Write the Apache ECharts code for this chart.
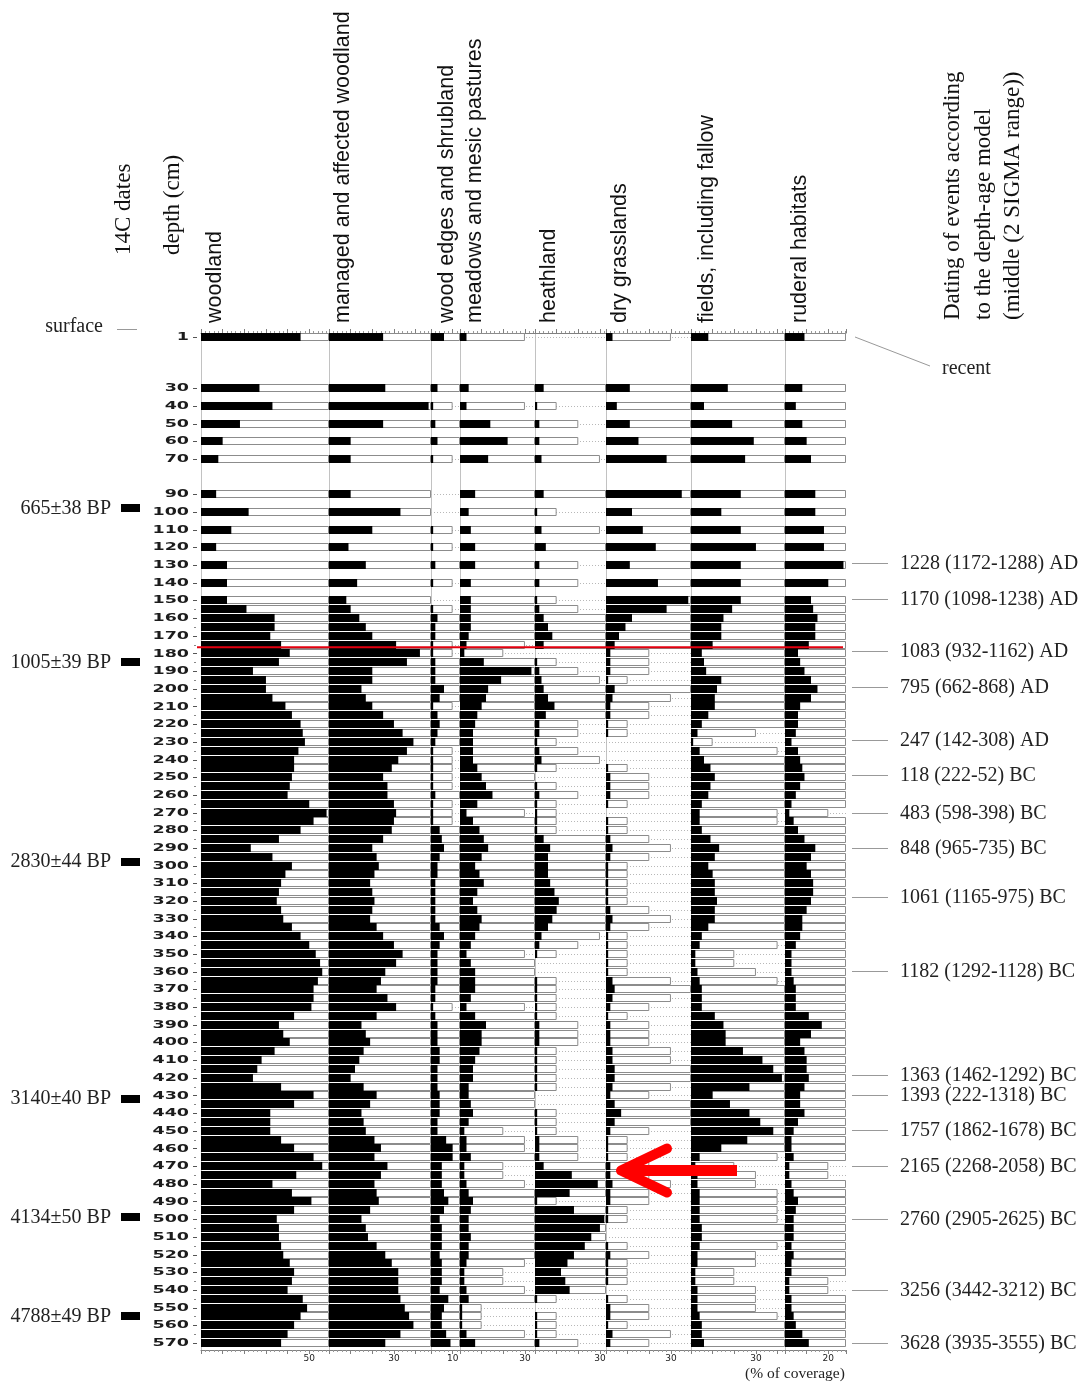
<!DOCTYPE html>
<html>
<head>
<meta charset="utf-8">
<script src="https://cdn.jsdelivr.net/npm/echarts@6/dist/echarts.min.js"></script>
<style>
  html, body { margin: 0; padding: 0; background: #fff; }
  #chart { width: 1087px; height: 1383px; }
</style>
</head>
<body>
<div id="chart"></div>
<script>
// Sample depths (cm)
const depths = [1,30,40,50,60,70,90,100,110,120,130,140,
  150,155,160,165,170,175,180,185,190,195,
  200,205,210,215,220,225,230,235,240,245,
  250,255,260,265,270,275,280,285,290,295,
  300,305,310,315,320,325,330,335,340,345,
  350,355,360,365,370,375,380,385,390,395,
  400,405,410,415,420,425,430,435,440,445,
  450,455,460,465,470,475,480,485,490,495,
  500,505,510,515,520,525,530,535,540,545,
  550,555,560,565,570];

// Depth tick labels
const depthLabels = [1,30,40,50,60,70,90,100,110,120,130,140,150,160,170,180,190,
  200,210,220,230,240,250,260,270,280,290,300,310,320,330,340,350,360,370,380,390,
  400,410,420,430,440,450,460,470,480,490,500,510,520,530,540,550,560,570];

// % of coverage per habitat type, one value per sample depth
const woodland = [46,27,33,18,10,8,7,22,14,7,12,12,
  12,21,34,34,32,37,41,36,24,30,
  30,33,39,42,46,47,48,45,43,43,
  42,41,40,50,58,52,46,36,23,33,
  42,39,37,36,35,37,38,42,46,50,
  53,55,56,54,52,52,51,43,36,38,
  41,34,28,26,24,37,52,43,32,32,
  32,37,43,52,56,44,33,42,51,43,
  35,36,36,37,38,41,43,42,40,47,
  49,46,43,40,37];

const managedWoodland = [25,26,46,25,10,10,10,33,20,9,17,13,
  8,10,14,17,20,31,42,36,20,20,
  15,17,20,25,30,34,39,36,32,29,
  25,27,27,30,31,30,29,25,20,22,
  23,21,19,20,21,20,19,22,25,30,
  34,31,26,24,22,27,31,22,15,17,
  19,16,14,12,10,16,22,19,15,16,
  17,21,24,21,27,24,21,22,23,19,
  15,17,18,22,26,29,32,32,32,33,
  35,37,39,33,26];

const woodEdges = [6,3,1,2,3,1,0,0,1,1,2,1,
  0,1,3,2,2,1,1,2,2,2,
  6,4,1,3,4,3,2,1,1,1,
  1,1,2,1,1,1,4,5,6,4,
  3,3,2,2,2,2,2,4,6,4,
  3,3,3,3,2,2,1,2,3,3,
  3,4,4,3,3,3,4,4,4,3,
  3,7,10,10,5,5,5,6,8,6,
  4,5,5,5,4,5,5,5,4,8,
  6,5,5,7,9];

const meadows = [3,4,3,14,22,13,7,4,5,7,7,5,
  5,5,5,5,4,3,2,11,33,19,
  13,12,10,8,7,6,6,6,6,8,
  10,12,15,8,3,6,9,11,13,10,
  7,9,11,8,6,8,10,9,7,5,
  3,5,7,7,7,5,3,7,12,10,
  10,9,7,6,6,4,4,5,6,4,
  2,3,3,5,2,2,3,4,6,5,
  4,4,5,4,4,3,2,2,3,4,
  1,1,1,3,7];

const heathland = [0,4,1,2,2,3,4,1,3,5,2,2,
  1,2,4,6,8,4,0,1,2,3,
  4,6,9,5,2,2,1,2,3,1,
  0,1,2,1,1,1,1,4,7,6,
  6,6,7,9,11,10,8,6,3,2,
  1,0,0,1,1,1,1,1,2,2,
  2,1,1,1,1,1,0,0,1,1,
  1,2,2,2,4,17,29,16,1,18,
  32,30,26,23,18,15,12,14,16,1,
  0,1,1,1,2];

const dryGrasslands = [3,11,5,11,15,28,35,12,17,23,11,24,
  38,28,12,9,6,4,2,2,2,1,
  4,3,2,2,1,1,0,0,0,1,
  2,2,2,1,0,1,1,2,3,2,
  1,1,1,1,1,2,3,2,1,1,
  1,1,1,3,4,3,2,1,2,2,
  2,3,3,4,4,3,2,4,7,4,
  2,1,1,1,2,2,3,2,2,1,
  1,0,0,1,2,1,1,1,0,1,
  2,2,1,3,2];

const fields = [8,17,6,19,29,25,23,14,23,30,23,23,
  23,19,15,14,14,10,5,6,7,14,
  12,11,11,8,5,3,1,4,6,9,
  11,9,8,5,4,4,5,9,13,11,
  8,10,11,11,12,11,11,8,5,4,
  2,2,3,4,5,5,5,11,15,16,
  16,24,33,38,42,27,10,18,27,32,
  38,26,14,4,2,3,3,4,4,4,
  4,5,5,4,3,3,2,2,3,3,
  3,4,5,5,6];

const ruderal = [9,8,5,8,10,12,14,14,18,18,27,20,
  12,13,15,14,14,11,6,7,9,12,
  15,12,7,6,6,5,3,6,7,8,
  9,7,5,3,2,4,6,9,14,12,
  10,12,13,13,12,10,8,8,7,5,
  3,3,3,4,5,5,5,11,17,12,
  7,9,10,10,11,9,7,7,9,6,
  4,3,3,4,2,2,3,4,6,5,
  4,4,4,3,4,3,3,2,2,3,
  3,4,5,8,11];

const columnTitles = ['woodland', 'managed and affected woodland', 'wood edges and shrubland',
  'meadows and mesic pastures', 'heathland', 'dry grasslands', 'fields, including fallow', 'ruderal habitats'];
const axisTickValues = [50, 30, 10, 30, 30, 30, 30, 20];

// Radiocarbon dates (left) and modelled event ages (right)
const radiocarbonDates = ['665±38 BP', '1005±39 BP', '2830±44 BP', '3140±40 BP', '4134±50 BP', '4788±49 BP'];
const radiocarbonDepths = [98, 185, 298, 432, 499, 555];
const eventDates = ['1228 (1172-1288) AD', '1170 (1098-1238) AD', '1083 (932-1162) AD', '795 (662-868) AD',
  '247 (142-308) AD', '118 (222-52) BC', '483 (598-398) BC', '848 (965-735) BC', '1061 (1165-975) BC',
  '1182 (1292-1128) BC', '1363 (1462-1292) BC', '1393 (222-1318) BC', '1757 (1862-1678) BC',
  '2165 (2268-2058) BC', '2760 (2905-2625) BC', '3256 (3442-3212) BC', '3628 (3935-3555) BC'];
const eventDepths = [129, 149, 178.5, 199, 229, 249, 270, 290, 318, 359.5, 418.5, 430, 449.5, 470, 500, 540, 570];

const boundaryDepth = 176.5;   // red horizon line
const arrowDepth = 472.5;      // red arrow row

// ---- layout ----
const PX_PER_PCT = 2.165;
const EXAG = 10;                       // exaggeration of the open bars
const TOP = 333, BOTTOM = 1350;
const Y_MIN = -1.25, Y_MAX = 574;
const colEdges = [201, 329, 431, 460, 535, 606, 691, 785, 846];
const titleX = [215, 343, 447, 475, 549, 620, 707, 800];
const columnValues = [woodland, managedWoodland, woodEdges, meadows, heathland, dryGrasslands, fields, ruderal];

const SANS = '"Liberation Sans", Arial, sans-serif';
const SERIF = '"Liberation Serif", "Times New Roman", serif';

function barRenderer(max) {
  return function (params, api) {
    const v = api.value(0), d = api.value(1);
    const p0 = api.coord([0, d]);
    const y = Math.round(p0[1]);
    const x0 = Math.round(p0[0]);
    const xMax = api.coord([max, d])[0];
    const children = [{
      type: 'line',
      shape: { x1: x0, y1: y + 0.5, x2: xMax, y2: y + 0.5 },
      style: { stroke: '#b8b8b8', lineWidth: 1, lineDash: [1, 2] }
    }];
    if (v > 0) {
      const xe = api.coord([Math.min(v * EXAG, max), d])[0];
      const xb = api.coord([v, d])[0];
      children.push({
        type: 'rect',
        shape: { x: x0 + 0.5, y: y - 3.5, width: Math.max(xe - x0 - 1, 0), height: 7 },
        style: { fill: '#fff', stroke: '#8c8c8c', lineWidth: 1 }
      });
      children.push({
        type: 'rect',
        shape: { x: x0, y: y - 4, width: xb - x0, height: 8 },
        style: { fill: '#000' }
      });
    }
    return { type: 'group', children };
  };
}

const grids = [], xAxes = [], yAxes = [], series = [];
columnValues.forEach((vals, i) => {
  const left = colEdges[i], right = colEdges[i + 1];
  const max = (right - left) / PX_PER_PCT;
  grids.push({ left, top: TOP, width: right - left, height: BOTTOM - TOP });
  const common = {
    type: 'value', gridIndex: i, min: 0, max, interval: 10,
    splitLine: { show: false },
    axisLine: { show: true, onZero: false, lineStyle: { color: '#808080', width: 1 } },
    axisTick: { show: true, length: 4, lineStyle: { color: '#808080' } },
    minorTick: { show: true, splitNumber: 5, length: 2, lineStyle: { color: '#999' } },
    minorSplitLine: { show: false }
  };
  xAxes.push(Object.assign({}, common, { position: 'top', axisLabel: { show: false } }));
  xAxes.push(Object.assign({}, common, {
    position: 'bottom',
    axisLabel: { show: true, customValues: [axisTickValues[i]], fontSize: 9, color: '#222',
      margin: 4, fontFamily: '"DejaVu Sans", sans-serif' }
  }));
  yAxes.push({
    type: 'value', gridIndex: i, inverse: true, min: Y_MIN, max: Y_MAX,
    axisLine: { show: true, onZero: false, lineStyle: { color: '#c2c2c2', width: 1 } },
    axisTick: { show: false }, axisLabel: { show: false }, splitLine: { show: false }
  });
  series.push({
    type: 'custom', xAxisIndex: 2 * i + 1, yAxisIndex: i, silent: true, clip: false,
    data: vals.map((v, k) => [v, depths[k]]),
    renderItem: barRenderer(max)
  });
});

// depth scale drawn left of the first column
series.push({
  type: 'custom', xAxisIndex: 1, yAxisIndex: 0, silent: true, clip: false,
  data: depths.map(d => [0, d]),
  renderItem(params, api) {
    const d = api.value(1);
    const p = api.coord([0, d]);
    const y = Math.round(p[1]) + 0.5;
    const x0 = p[0];
    if (depthLabels.indexOf(d) >= 0) {
      return { type: 'group', children: [
        { type: 'text', x: x0 - 12, y: p[1] + 0.5, scaleX: 1.75,
          style: { text: String(d), align: 'right', verticalAlign: 'middle',
            font: 'bold 10px "DejaVu Sans", sans-serif', fill: '#1c1c1c' } },
        { type: 'line', shape: { x1: x0 - 8, y1: y, x2: x0 - 4, y2: y }, style: { stroke: '#555', lineWidth: 1 } }
      ] };
    }
    return { type: 'line', shape: { x1: x0 - 7, y1: y, x2: x0 - 5, y2: y }, style: { stroke: '#888', lineWidth: 1 } };
  }
});

const chart = echarts.init(document.getElementById('chart'));
chart.setOption({
  animation: false,
  backgroundColor: '#fff',
  grid: grids,
  xAxis: xAxes,
  yAxis: yAxes,
  series
});

// ---- annotations ----
const yOf = d => chart.convertToPixel({ yAxisIndex: 0 }, d);
const g = [];

columnTitles.forEach((t, i) => {
  g.push({ type: 'text', x: titleX[i], y: 323, rotation: Math.PI / 2,
    style: { text: t, font: '21.5px ' + SANS, fill: '#111', align: 'left', verticalAlign: 'middle' } });
});
[['14C dates', 124], ['depth (cm)', 173]].forEach(([t, x]) => {
  g.push({ type: 'text', x, y: 255, rotation: Math.PI / 2,
    style: { text: t, font: '23px ' + SERIF, fill: '#111', align: 'left', verticalAlign: 'middle' } });
});
[['Dating of events according', 953], ['to the depth-age model', 984], ['(middle (2 SIGMA range))', 1013]].forEach(([t, x]) => {
  g.push({ type: 'text', x, y: 320, rotation: Math.PI / 2,
    style: { text: t, font: '23px ' + SERIF, fill: '#111', align: 'left', verticalAlign: 'middle' } });
});

// surface marker
g.push({ type: 'text', x: 103, y: 327, style: { text: 'surface', font: '20px ' + SERIF, fill: '#222', align: 'right', verticalAlign: 'middle' } });
g.push({ type: 'line', shape: { x1: 117, y1: 329.5, x2: 137, y2: 329.5 }, style: { stroke: '#999', lineWidth: 1 } });

// radiocarbon dates
radiocarbonDates.forEach((t, i) => {
  const y = yOf(radiocarbonDepths[i]);
  g.push({ type: 'text', x: 111, y, style: { text: t, font: '20px ' + SERIF, fill: '#222', align: 'right', verticalAlign: 'middle' } });
  g.push({ type: 'rect', shape: { x: 121, y: Math.round(y) - 4, width: 19, height: 8 }, style: { fill: '#000' } });
});

// modelled ages
eventDates.forEach((t, i) => {
  const y = Math.round(yOf(eventDepths[i])) + 0.5;
  g.push({ type: 'line', shape: { x1: 852, y1: y, x2: 888, y2: y }, style: { stroke: '#999', lineWidth: 1 } });
  g.push({ type: 'text', x: 900, y, style: { text: t, font: '20px ' + SERIF, fill: '#222', align: 'left', verticalAlign: 'middle' } });
});
g.push({ type: 'line', shape: { x1: 855, y1: 337, x2: 930, y2: 366 }, style: { stroke: '#999', lineWidth: 1 } });
g.push({ type: 'text', x: 942, y: 369, style: { text: 'recent', font: '20px ' + SERIF, fill: '#222', align: 'left', verticalAlign: 'middle' } });

// horizon line
const yb = yOf(boundaryDepth);
g.push({ type: 'line', z: 100, shape: { x1: 197, y1: yb, x2: 843, y2: yb }, style: { stroke: '#e4000f', lineWidth: 2 } });

// arrow
const ya = yOf(arrowDepth);
g.push({ type: 'line', z: 100, shape: { x1: 737, y1: ya, x2: 628, y2: ya }, style: { stroke: '#f00', lineWidth: 11, lineCap: 'butt' } });
g.push({ type: 'polyline', z: 100, shape: { points: [[667, ya - 22], [621, ya], [667, ya + 22]] },
  style: { stroke: '#f00', lineWidth: 10, lineCap: 'round', lineJoin: 'round', fill: null } });

g.push({ type: 'text', x: 795, y: 1374, style: { text: '(% of coverage)', font: '15.5px ' + SERIF, fill: '#222', align: 'center', verticalAlign: 'middle' } });

chart.setOption({ graphic: g });
</script>
</body>
</html>
